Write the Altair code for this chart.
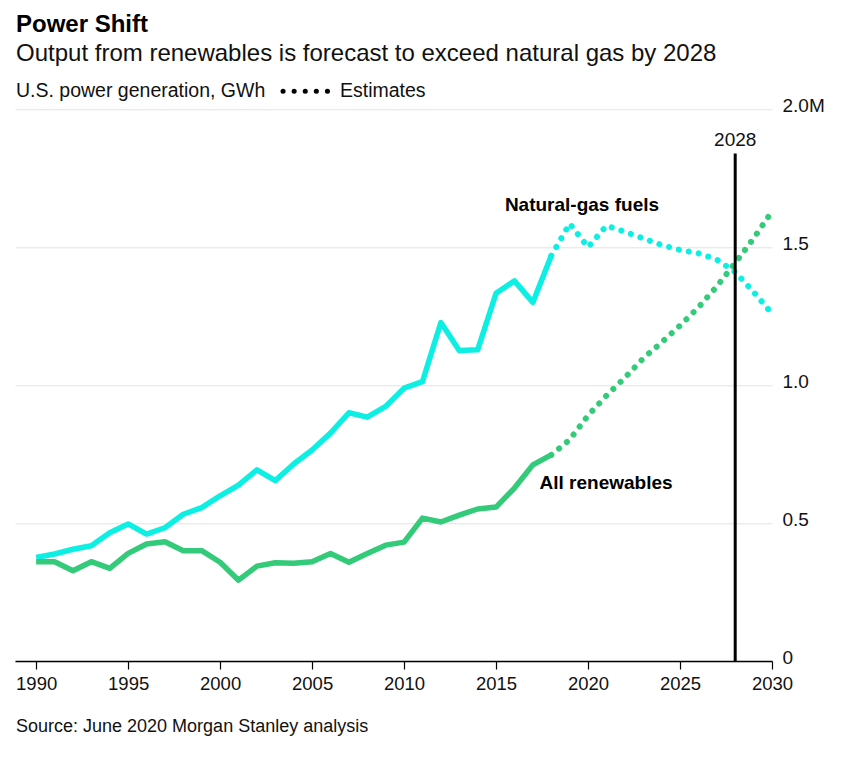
import altair as alt
import pandas as pd

# ---------------- data ----------------
years_actual = list(range(1990, 2019))
gas_actual = [0.375, 0.388, 0.405, 0.418, 0.465, 0.497, 0.460, 0.483, 0.532, 0.556,
              0.599, 0.638, 0.693, 0.654, 0.714, 0.765, 0.826, 0.900, 0.884, 0.923,
              0.989, 1.013, 1.227, 1.126, 1.128, 1.333, 1.378, 1.300, 1.469]
ren_actual = [0.360, 0.360, 0.327, 0.360, 0.336, 0.390, 0.424, 0.432, 0.400, 0.400,
              0.358, 0.293, 0.344, 0.356, 0.354, 0.360, 0.390, 0.358, 0.390, 0.420,
              0.431, 0.518, 0.504, 0.529, 0.551, 0.558, 0.627, 0.711, 0.747]

years_est = list(range(2018, 2031))
gas_est = [1.469, 1.586, 1.500, 1.578, 1.556, 1.532, 1.508, 1.490, 1.478, 1.455,
           1.410, 1.338, 1.259]
ren_est = [0.747, 0.802, 0.890, 0.962, 1.027, 1.097, 1.155, 1.216, 1.282, 1.358,
           1.443, 1.532, 1.630]

series_names = ["Natural-gas fuels", "All renewables"]
series_colors = ["#0CEFE2", "#33CB79"]

x_ticks = [1990, 1995, 2000, 2005, 2010, 2015, 2020, 2025, 2030]
y_ticks = [0, 0.5, 1.0, 1.5, 2.0]

marker_year = [2028]
marker_bottom = [0.0]
marker_top = [1.84]
marker_label_value = [1.889]

label_text = ["Natural-gas fuels", "All renewables"]
label_year = [2019.67, 2020.98]
label_value = [1.653, 0.645]

title_text = "Power Shift"
subtitle_text = "Output from renewables is forecast to exceed natural gas by 2028"
unit_text = "U.S. power generation, GWh"
estimates_text = "Estimates"
source_text = "Source: June 2020 Morgan Stanley analysis"

# ---------------- tables ----------------
rows = []
for yr, g, r in zip(years_actual, gas_actual, ren_actual):
    rows.append({"year": yr, "value": g, "series": series_names[0], "kind": "Actual"})
    rows.append({"year": yr, "value": r, "series": series_names[1], "kind": "Actual"})
for yr, g, r in zip(years_est, gas_est, ren_est):
    rows.append({"year": yr, "value": g, "series": series_names[0], "kind": "Estimate"})
    rows.append({"year": yr, "value": r, "series": series_names[1], "kind": "Estimate"})
df = pd.DataFrame(rows)

marker_df = pd.DataFrame({"year": marker_year, "bottom": marker_bottom,
                          "top": marker_top, "lab": marker_label_value,
                          "text": [str(y) for y in marker_year]})
labels_df = pd.DataFrame({"year": label_year, "value": label_value, "text": label_text})
header_df = pd.DataFrame({"unit": [unit_text], "est": [estimates_text],
                          "src": [source_text]})

FONT = "Liberation Sans"
TXT = "#111111"

xscale = alt.Scale(domain=[1988.85, 2030], nice=False, zero=False)
yscale = alt.Scale(domain=[0, 2], nice=False)
color = alt.Color("series:N",
                  scale=alt.Scale(domain=series_names, range=series_colors),
                  legend=None)

x_enc = alt.X("year:Q", scale=xscale,
              axis=alt.Axis(values=x_ticks, format="d", title=None, grid=False,
                            domainColor="#000000", domainWidth=1.5,
                            tickColor="#000000", tickSize=8, tickWidth=1.2,
                            labelFlush=False, labelOverlap=False,
                            labelFontSize=18.5, labelPadding=5, labelColor=TXT,
                            labelFont=FONT))
y_enc = alt.Y("value:Q", scale=yscale,
              axis=alt.Axis(orient="right", values=y_ticks, title=None,
                            labelExpr="datum.value == 2 ? '2.0M' : datum.value == 0 ? '0' : format(datum.value, '.1f')",
                            domain=False, ticks=False, grid=True,
                            gridColor="#e3e3e3", gridWidth=1,
                            labelFlush=False, labelOverlap=False,
                            labelPadding=10, labelOffset=-4, labelAlign="left",
                            labelFontSize=19, labelColor=TXT, labelFont=FONT))

actual = alt.Chart(df).transform_filter(alt.datum.kind == "Actual").mark_line(
    strokeWidth=5.5, strokeJoin="round", strokeCap="butt"
).encode(x=x_enc, y=y_enc, color=color, detail="series:N")

estimate = alt.Chart(df).transform_filter(alt.datum.kind == "Estimate").mark_line(
    strokeWidth=6, strokeDash=[0.1, 10], strokeCap="round"
).encode(x="year:Q", y="value:Q", color=color, detail="series:N")

rule = alt.Chart(marker_df).mark_rule(color="#000000", strokeWidth=3).encode(
    x="year:Q", y="bottom:Q", y2="top:Q")

rule_label = alt.Chart(marker_df).mark_text(
    font=FONT, fontSize=19, color=TXT, baseline="middle", align="center"
).encode(x="year:Q", y="lab:Q", text="text:N")

ann = alt.Chart(labels_df).mark_text(
    font=FONT, fontSize=19, fontWeight="bold", color="#000000",
    baseline="middle", align="center"
).encode(x="year:Q", y="value:Q", text="text:N")

unit = alt.Chart(header_df).mark_text(
    font=FONT, fontSize=19.5, color=TXT, align="left", baseline="middle"
).encode(x=alt.value(1), y=alt.value(-18), text="unit:N")

legend_dots = alt.Chart(header_df).mark_rule(
    color="#000000", strokeWidth=5, strokeDash=[0.1, 11], strokeCap="round"
).encode(x=alt.value(268), x2=alt.value(313), y=alt.value(-18))

legend_text = alt.Chart(header_df).mark_text(
    font=FONT, fontSize=19.5, color=TXT, align="left", baseline="middle"
).encode(x=alt.value(325), y=alt.value(-18), text="est:N")

source = alt.Chart(header_df).mark_text(
    font=FONT, fontSize=18, color=TXT, align="left", baseline="middle"
).encode(x=alt.value(1), y=alt.value(618), text="src:N")

chart = alt.layer(
    actual, estimate, rule, rule_label, ann, unit, legend_dots, legend_text, source
).properties(
    width=757, height=551.7,
    padding={"left": 7, "top": 101.3, "right": 60, "bottom": 95},
    autosize=alt.AutoSizeParams(type="none"),
    title=alt.TitleParams(
        text=title_text, subtitle=subtitle_text, anchor="start", frame="group",
        offset=15, font=FONT, fontSize=24, fontWeight="bold", color="#000000",
        subtitleFont=FONT, subtitleFontSize=24, subtitleColor=TXT,
        subtitlePadding=5, dx=1
    )
).configure_view(stroke=None)

chart.save("out.html", embed_options={"renderer": "svg", "actions": False})
